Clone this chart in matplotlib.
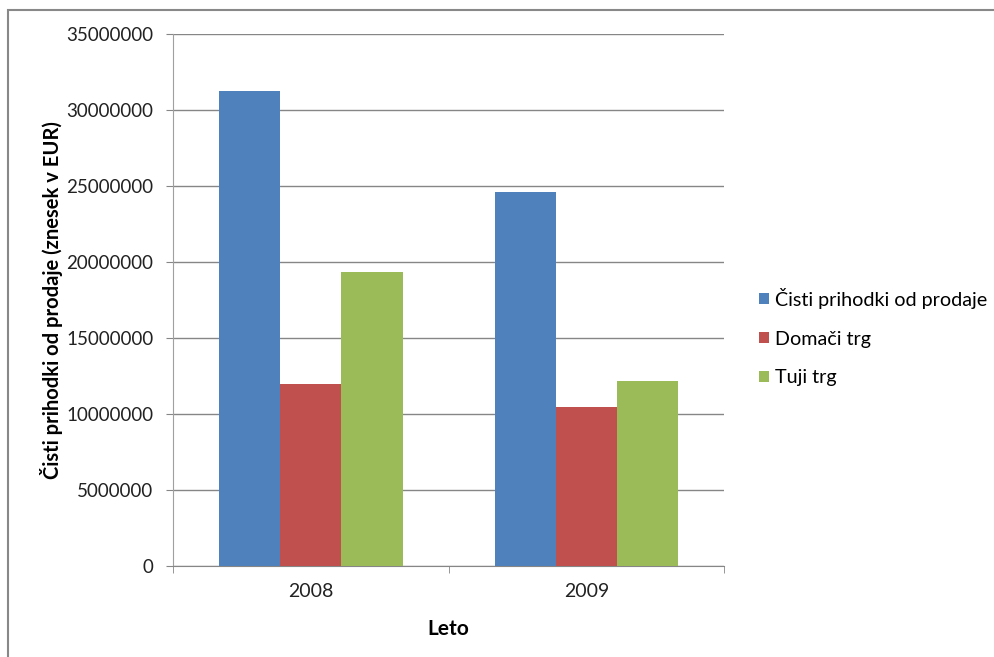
import matplotlib.pyplot as plt
import numpy as np
from matplotlib.patches import Rectangle

# podatki
leta = ['2008', '2009']
serije = ['Čisti prihodki od prodaje', 'Domači trg', 'Tuji trg']
cisti_prihodki = [31250000, 24580000]
domaci_trg = [11970000, 10460000]
tuji_trg = [19340000, 12190000]
barve = ['#4F81BD', '#C0504D', '#9BBB59']

plt.rcParams['font.family'] = ['Lato', 'DejaVu Sans']

fig = plt.figure(figsize=(9.95, 6.57), dpi=100)
ax = fig.add_axes([0.1739, 0.1385, 0.5538, 0.8097])

x = np.arange(len(leta))
sirina = 0.222
for i, (vrednosti, ime) in enumerate(zip([cisti_prihodki, domaci_trg, tuji_trg], serije)):
    ax.bar(x + (i - 1) * sirina, vrednosti, sirina, color=barve[i], label=ime, zorder=3)

# osi
ax.set_xlim(-0.5, 1.5)
ax.set_ylim(0, 35000000)
ax.set_yticks(np.arange(0, 35000001, 5000000))
ax.set_yticklabels([str(v) for v in range(0, 35000001, 5000000)])
ax.set_xticks(x)
ax.set_xticklabels(leta)
ax.set_xticks([-0.5, 0.5, 1.5], minor=True)
ax.tick_params(axis='x', which='major', length=0, pad=12, labelsize=14, labelcolor='#222222')
ax.tick_params(axis='x', which='minor', length=5, color='#868686', direction='out')
ax.tick_params(axis='y', length=5, color='#868686', pad=9, labelsize=13.5, labelcolor='#222222')

# mreža
ax.grid(axis='y', color='#868686', linewidth=1, zorder=0)
for s in ['top', 'right']:
    ax.spines[s].set_visible(False)
ax.spines['left'].set_color('#A0A0A0')
ax.spines['bottom'].set_color('#868686')

# nazivi osi
ax.set_xlabel('Leto', fontsize=15, fontweight='bold', labelpad=14)
ax.set_ylabel('Čisti prihodki od prodaje (znesek v EUR)', fontsize=14.5, fontweight='bold')
ax.yaxis.set_label_coords(-0.2, 0.5)

# legenda
fig.legend(loc='center left', bbox_to_anchor=(0.745, 0.487), frameon=False, fontsize=14.2,
           handlelength=0.5, handleheight=0.5, handletextpad=0.3, labelspacing=1.1)

# okvir slike
fig.patches.append(Rectangle((8 / 995, -0.1), 1.1, 1.1 - 10 / 657, transform=fig.transFigure,
                             fill=False, edgecolor='#888888', linewidth=1.5))

plt.savefig('out.png', dpi=100)
